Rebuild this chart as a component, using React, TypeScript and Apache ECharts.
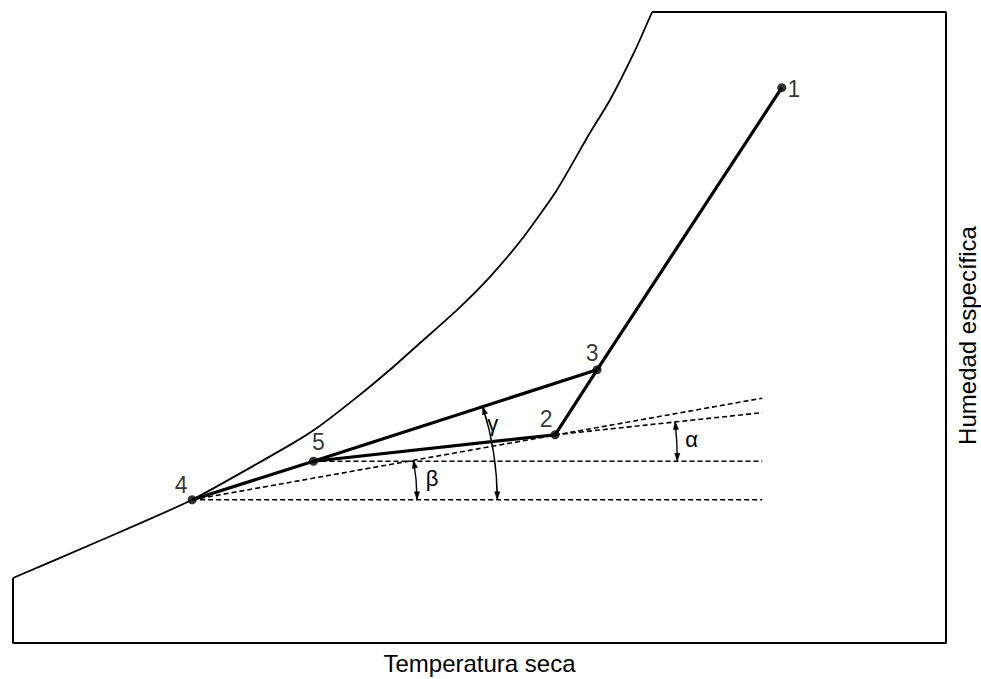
import React, { useEffect, useRef } from "react";
import * as echarts from "echarts";

// ---- data (abstract chart units: 0..100 on both axes) ----
const POINT_NAMES = ["1", "2", "3", "4", "5"];
const POINT_X = [82.4, 58.1, 62.6, 19.2, 32.2];
const POINT_Y = [88.0, 33.0, 43.3, 22.7, 28.8];

// saturation curve (read along the curved edge)
const SAT_X = [0, 9.3, 19.2, 29.7, 32.6, 36.9, 40.4, 43.9, 47.6, 51.1, 54.7, 58.3, 61.7, 64.0, 66.7, 68.5];
const SAT_Y = [10.3, 16.2, 22.7, 31.4, 34.1, 39.0, 43.3, 47.9, 52.8, 58.0, 64.3, 71.8, 80.5, 86.1, 94.0, 100];

// chart frame (straight edges)
const FRAME_X = [0, 0, 100, 100, 68.5];
const FRAME_Y = [10.3, 0, 0, 100, 100];

// process paths (solid heavy lines)
const PROCESS_PATH = ["1", "3", "2", "5", "4"];
const MIX_PATH = ["5", "3"];

// dashed guide lines: start point name, end value
const GUIDE_START = ["4", "5", "4", "2"];
const GUIDE_END_X = [80.3, 80.3, 80.3, 80.3];
const GUIDE_END_Y = [22.7, 28.8, 38.8, 36.5];

// angle markers
const ANGLE_NAMES = ["α", "β", "γ"];
const ANGLE_VERTEX = ["5", "4", "4"];
const ANGLE_THROUGH = ["2", "2", "3"];

const X_NAME = "Temperatura seca";
const Y_NAME = "Humedad específica";

// ---- layout / style ----
const FONT = "'Liberation Sans', Arial, Helvetica, sans-serif";
const INK = "#000";
const ANGLE_LAYOUT: Record<string, { r: number; labelFrac: number; labelGap: number }> = {
  "α": { r: 39.0, labelFrac: 0.52, labelGap: 15 },
  "β": { r: 24.1, labelFrac: 0.5, labelGap: 16 },
  "γ": { r: 32.7, labelFrac: 0.8, labelGap: 5 },
};
const POINT_LABEL_OFFSET: Record<string, [number, number]> = {
  "1": [12, 1],
  "2": [-9, -16],
  "3": [-5, -17],
  "4": [-11, -15],
  "5": [5, -19],
};

function pt(name: string): [number, number] {
  const i = POINT_NAMES.indexOf(name);
  return [POINT_X[i], POINT_Y[i]];
}

export default function App() {
  const ref = useRef<HTMLDivElement>(null);

  useEffect(() => {
    if (!ref.current) return;
    const chart = echarts.init(ref.current, null, { renderer: "svg" });

    const guideSeries = GUIDE_START.map((s, i) => ({
      type: "line",
      data: [pt(s), [GUIDE_END_X[i], GUIDE_END_Y[i]]],
      showSymbol: false,
      silent: true,
      z: 2,
      lineStyle: { color: INK, width: 1.6, type: [5, 3] },
    }));

    const angleData = ANGLE_NAMES.map((n, i) => {
      const v = pt(ANGLE_VERTEX[i]);
      const t = pt(ANGLE_THROUGH[i]);
      return { name: n, value: [v[0], v[1], ANGLE_LAYOUT[n].r, t[0], t[1]] };
    });

    const option: any = {
      animation: false,
      backgroundColor: "#fff",
      grid: { left: 13, right: 35, top: 12, bottom: 36, containLabel: false, outerBoundsMode: "none" },
      xAxis: {
        type: "value",
        min: 0,
        max: 100,
        name: X_NAME,
        nameLocation: "middle",
        nameGap: 8,
        nameTextStyle: { fontFamily: FONT, fontSize: 24, color: INK, verticalAlign: "top" },
        axisLine: { show: false },
        axisTick: { show: false },
        axisLabel: { show: false },
        splitLine: { show: false },
      },
      yAxis: {
        type: "value",
        min: 0,
        max: 100,
        position: "right",
        name: Y_NAME,
        nameLocation: "middle",
        nameRotate: 90,
        nameGap: 9,
        nameTextStyle: { fontFamily: FONT, fontSize: 24, color: INK, padding: [0, 16, 0, 0] },
        axisLine: { show: false },
        axisTick: { show: false },
        axisLabel: { show: false },
        splitLine: { show: false },
      },
      series: [
        {
          type: "line",
          data: FRAME_X.map((x, i) => [x, FRAME_Y[i]]),
          showSymbol: false,
          silent: true,
          z: 1,
          lineStyle: { color: INK, width: 2 },
        },
        {
          type: "line",
          data: SAT_X.map((x, i) => [x, SAT_Y[i]]),
          showSymbol: false,
          smooth: 0.2,
          silent: true,
          z: 1,
          lineStyle: { color: INK, width: 1.8, join: "round" },
        },
        ...guideSeries,
        {
          type: "line",
          data: PROCESS_PATH.map(pt),
          showSymbol: false,
          silent: true,
          z: 3,
          lineStyle: { color: INK, width: 3.2, join: "round" },
        },
        {
          type: "line",
          data: MIX_PATH.map(pt),
          showSymbol: false,
          silent: true,
          z: 3,
          lineStyle: { color: INK, width: 3.2 },
        },
        {
          type: "scatter",
          z: 4,
          symbolSize: 9,
          itemStyle: { color: INK },
          data: POINT_NAMES.map((n, i) => ({
            name: n,
            value: [POINT_X[i], POINT_Y[i]],
            label: { offset: POINT_LABEL_OFFSET[n] },
          })),
          label: {
            show: true,
            position: "inside",
            formatter: (p: any) => p.name,
            fontFamily: FONT,
            fontSize: 23,
            color: INK,
          },
        },
        {
          type: "custom",
          z: 5,
          silent: true,
          data: angleData,
          renderItem: (params: any, api: any) => {
            const name = ANGLE_NAMES[params.dataIndex];
            const lay = ANGLE_LAYOUT[name];
            const c = api.coord([api.value(0), api.value(1)]);
            const e = api.coord([api.value(0) + api.value(2), api.value(1)]);
            const t = api.coord([api.value(3), api.value(4)]);
            const R = e[0] - c[0];
            const a = Math.atan2(t[1] - c[1], t[0] - c[0]);
            const arrow = (ang: number, sign: number) => {
              const px = c[0] + R * Math.cos(ang);
              const py = c[1] + R * Math.sin(ang);
              const dx = -Math.sin(ang) * sign;
              const dy = Math.cos(ang) * sign;
              const L = 8;
              const W = 2.6;
              const bx = px - dx * L;
              const by = py - dy * L;
              return {
                type: "polygon",
                shape: { points: [[px, py], [bx - dy * W, by + dx * W], [bx + dy * W, by - dx * W]] },
                style: { fill: INK, stroke: INK, lineWidth: 0.5 },
              };
            };
            const la = a * lay.labelFrac;
            const lr = R + lay.labelGap;
            return {
              type: "group",
              children: [
                {
                  type: "arc",
                  shape: { cx: c[0], cy: c[1], r: R, startAngle: a, endAngle: 0, clockwise: true },
                  style: { stroke: INK, lineWidth: 1.4, fill: "none" },
                },
                arrow(0, 1),
                arrow(a, -1),
                {
                  type: "text",
                  x: c[0] + lr * Math.cos(la),
                  y: c[1] + lr * Math.sin(la),
                  style: {
                    text: name,
                    fontFamily: FONT,
                    fontSize: 22,
                    fill: INK,
                    align: "center",
                    verticalAlign: "middle",
                  },
                },
              ],
            };
          },
        },
      ],
    };

    chart.setOption(option);
    return () => chart.dispose();
  }, []);

  return (
    <div
      ref={ref}
      style={{ position: "absolute", left: 0, top: 0, width: 981, height: 679, background: "#fff" }}
    />
  );
}
